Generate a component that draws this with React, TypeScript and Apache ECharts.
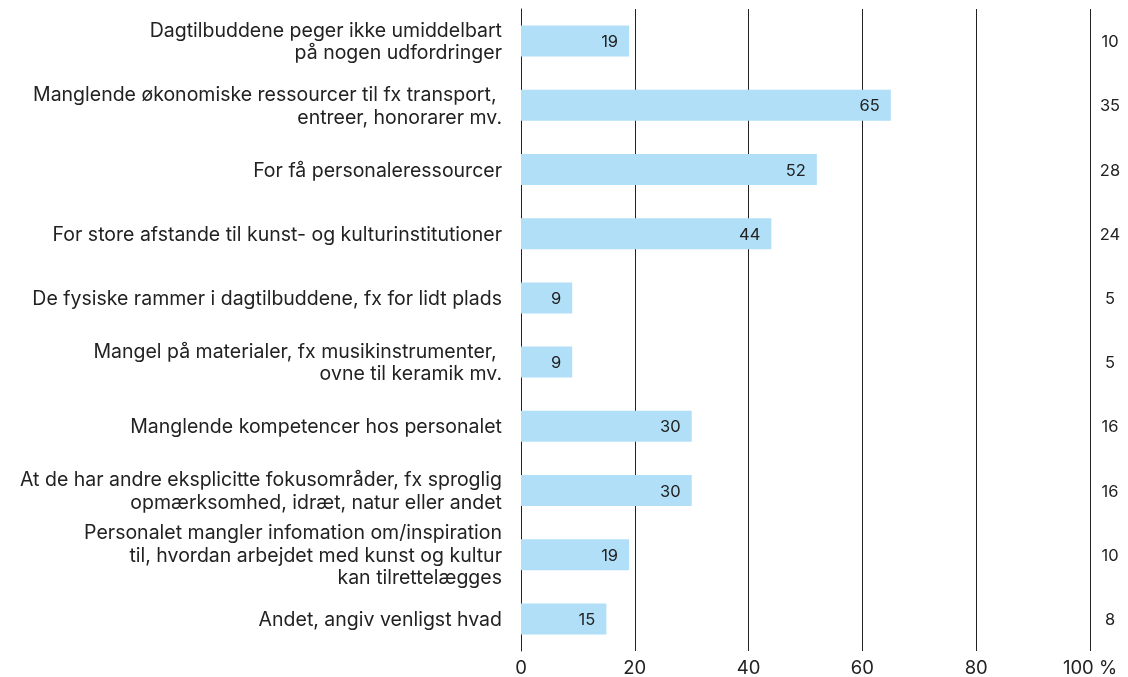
import React, { useEffect, useRef } from "react";
import * as echarts from "echarts";

const categories = [
  "Dagtilbuddene peger ikke umiddelbart\npå nogen udfordringer",
  "Manglende økonomiske ressourcer til fx transport, \nentreer, honorarer mv.",
  "For få personaleressourcer",
  "For store afstande til kunst- og kulturinstitutioner",
  "De fysiske rammer i dagtilbuddene, fx for lidt plads",
  "Mangel på materialer, fx musikinstrumenter, \novne til keramik mv.",
  "Manglende kompetencer hos personalet",
  "At de har andre eksplicitte fokusområder, fx sproglig\nopmærksomhed, idræt, natur eller andet",
  "Personalet mangler infomation om/inspiration\ntil, hvordan arbejdet med kunst og kultur\nkan tilrettelægges",
  "Andet, angiv venligst hvad",
];
const percentValues = [19, 65, 52, 44, 9, 9, 30, 30, 19, 15];
const countValues = ["10", "35", "28", "24", "5", "5", "16", "16", "10", "8"];

const FONT = "Inter, 'Open Sans', sans-serif";

export default function App() {
  const ref = useRef<HTMLDivElement>(null);
  useEffect(() => {
    if (!ref.current) return;
    const chart = echarts.init(ref.current, null, { renderer: "svg" });
    chart.setOption({
      animation: false,
      textStyle: { fontFamily: FONT },
      grid: { left: 521, right: 38, top: 9, bottom: 26 },
      xAxis: {
        type: "value",
        min: 0,
        max: 100,
        interval: 20,
        axisLine: { show: false },
        axisTick: { show: false },
        splitLine: { show: true, lineStyle: { color: "#222", width: 1 } },
        axisLabel: {
          color: "#222",
          fontSize: 18.5,
          fontFamily: FONT,
          margin: 6,
          formatter: (v: number) => (v === 100 ? "100 %" : String(v)),
        },
      },
      yAxis: [
        {
          type: "category",
          data: categories,
          inverse: true,
          axisLine: { show: true, lineStyle: { color: "#222", width: 1 } },
          axisTick: { show: false },
          axisLabel: {
            color: "#222",
            fontSize: 19.5,
            fontFamily: FONT,
            margin: 19,
            lineHeight: 22.5,
            align: "right",
          },
        },
        {
          type: "category",
          data: countValues,
          inverse: true,
          position: "right",
          axisLine: { show: false },
          axisTick: { show: false },
          axisLabel: {
            color: "#222",
            fontSize: 16.5,
            fontFamily: FONT,
            margin: 20,
            align: "center",
          },
        },
      ],
      series: [
        {
          type: "bar",
          data: percentValues,
          barWidth: 31,
          itemStyle: { color: "#b1dff7" },
          label: {
            show: true,
            position: "insideRight",
            distance: 11,
            color: "#222",
            fontSize: 16.5,
            fontFamily: FONT,
          },
        },
      ],
    });
    return () => chart.dispose();
  }, []);
  return (
    <div
      ref={ref}
      style={{ position: "fixed", left: 0, top: 0, width: 1128, height: 677 }}
    />
  );
}
